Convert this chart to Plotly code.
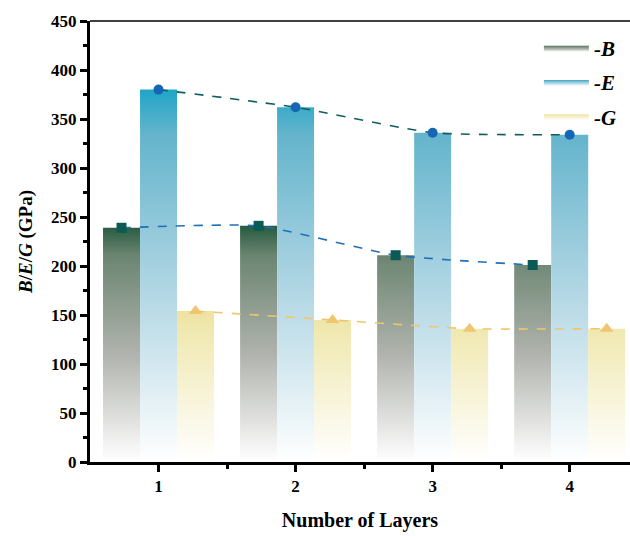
import plotly.graph_objects as go

layers = [1, 2, 3, 4]
B_vals = [239, 241, 211, 201]
E_vals = [380, 362, 336, 334]
G_vals = [154, 145, 136, 136]
series_names = ["<b><i>-B</i></b>", "<b><i>-E</i></b>", "<b><i>-G</i></b>"]
tick_labels = ["1", "2", "3", "4"]

BAR_W = 0.27
FONT = "Liberation Serif"


def hex2rgb(h):
    h = h.lstrip("#")
    return [int(h[i:i + 2], 16) for i in (0, 2, 4)]


def rgb2hex(c):
    return "#%02x%02x%02x" % tuple(int(round(v)) for v in c)


def cs_at(cs, f):
    for (p0, c0), (p1, c1) in zip(cs[:-1], cs[1:]):
        if p0 <= f <= p1:
            t = 0 if p1 == p0 else (f - p0) / (p1 - p0)
            a, b = hex2rgb(c0), hex2rgb(c1)
            return rgb2hex([a[i] + (b[i] - a[i]) * t for i in range(3)])
    return cs[-1][1]


def truncated_cs(cs, f):
    pts = [[0.0, cs[0][1]]]
    for p, c in cs[1:]:
        if p < f:
            pts.append([p / f, c])
    pts.append([1.0, cs_at(cs, f)])
    return pts


fig = go.Figure()

bar_specs = [
    (B_vals, -BAR_W, [[0, "#ffffff"], [0.45, "#b1b4ae"], [0.875, "#6b8571"], [1, "#265a40"]]),
    (E_vals, 0.0, [[0, "#ffffff"], [0.45, "#b3d7e4"], [0.88, "#64b4cc"], [1, "#1fa5c7"]]),
    (G_vals, BAR_W, [[0, "#ffffff"], [0.88, "#f0e8b0"], [1, "#eee2a0"]]),
]
for si, (name, (vals, off, cs)) in enumerate(zip(series_names, bar_specs)):
    vmax = max(vals)
    for j, (x, v) in enumerate(zip(layers, vals)):
        x0 = x + off - BAR_W / 2
        x1 = x + off + BAR_W / 2
        fig.add_trace(go.Scatter(
            x=[x0, x0, x1, x1, x0], y=[0, v, v, 0, 0],
            mode="lines", fill="toself", name=name,
            legendgroup=f"s{si}", showlegend=(j == 0),
            line=dict(width=0, color=cs[-1][1]),
            fillgradient=dict(type="vertical", colorscale=truncated_cs(cs, v / vmax)),
            hoverinfo="skip",
        ))

line_specs = [
    (B_vals, -BAR_W, "#1f70b6", "#0b5a55", "square", 10),
    (E_vals, 0.0, "#0f5d5d", "#1566b5", "circle", 10),
    (G_vals, BAR_W, "#f2c46c", "#f0c570", "triangle-up", 12),
]
for vals, off, lc, mc, sym, ms in line_specs:
    fig.add_trace(go.Scatter(
        x=[x + off for x in layers], y=vals, mode="lines+markers",
        line=dict(color=lc, width=1.6, dash="dash", shape="spline", smoothing=0.5),
        marker=dict(symbol=sym, size=ms, color=mc),
        showlegend=False,
    ))

fig.update_layout(
    width=630, height=536,
    margin=dict(l=90, r=0, t=21, b=74),
    plot_bgcolor="white", paper_bgcolor="white",
    font=dict(family=FONT, color="black"),
    legend=dict(
        x=0.985, y=0.985, xanchor="right", yanchor="top",
        bgcolor="rgba(0,0,0,0)",
        font=dict(family=FONT, size=21),
        itemwidth=45, tracegroupgap=4,
    ),
    shapes=[dict(type="line", xref="paper", yref="paper", x0=0, x1=1, y0=1, y1=1,
                 line=dict(color="black", width=1.5))],
)
fig.update_xaxes(
    range=[0.5, 4.44], tickmode="array", tickvals=layers, ticktext=[f"<b>{t}</b>" for t in tick_labels],
    showline=True, linecolor="black", linewidth=3,
    ticks="outside", ticklen=7, tickwidth=2.5, tickcolor="black",
    minor=dict(tickmode="array", tickvals=[1.5, 2.5, 3.5], ticks="outside", ticklen=4, tickwidth=2.5, tickcolor="black"),
    showgrid=False, zeroline=False,
    tickfont=dict(family=FONT, size=17),
    title=dict(text="<b>Number of Layers</b>", font=dict(family=FONT, size=20), standoff=18),
)
fig.update_yaxes(
    range=[0, 450], dtick=50, tick0=0,
    showline=True, linecolor="black", linewidth=3,
    ticks="outside", ticklen=7, tickwidth=2.5, tickcolor="black",
    minor=dict(dtick=25, ticks="outside", ticklen=4, tickwidth=2.5, tickcolor="black"),
    showgrid=False, zeroline=False,
    tickfont=dict(family=FONT, size=17), tickprefix="<b>", ticksuffix="</b>",
    title=dict(text="<b><i>B</i>/<i>E</i>/<i>G</i> (GPa)</b>", font=dict(family=FONT, size=19), standoff=14),
)

fig.write_html("out.html")
